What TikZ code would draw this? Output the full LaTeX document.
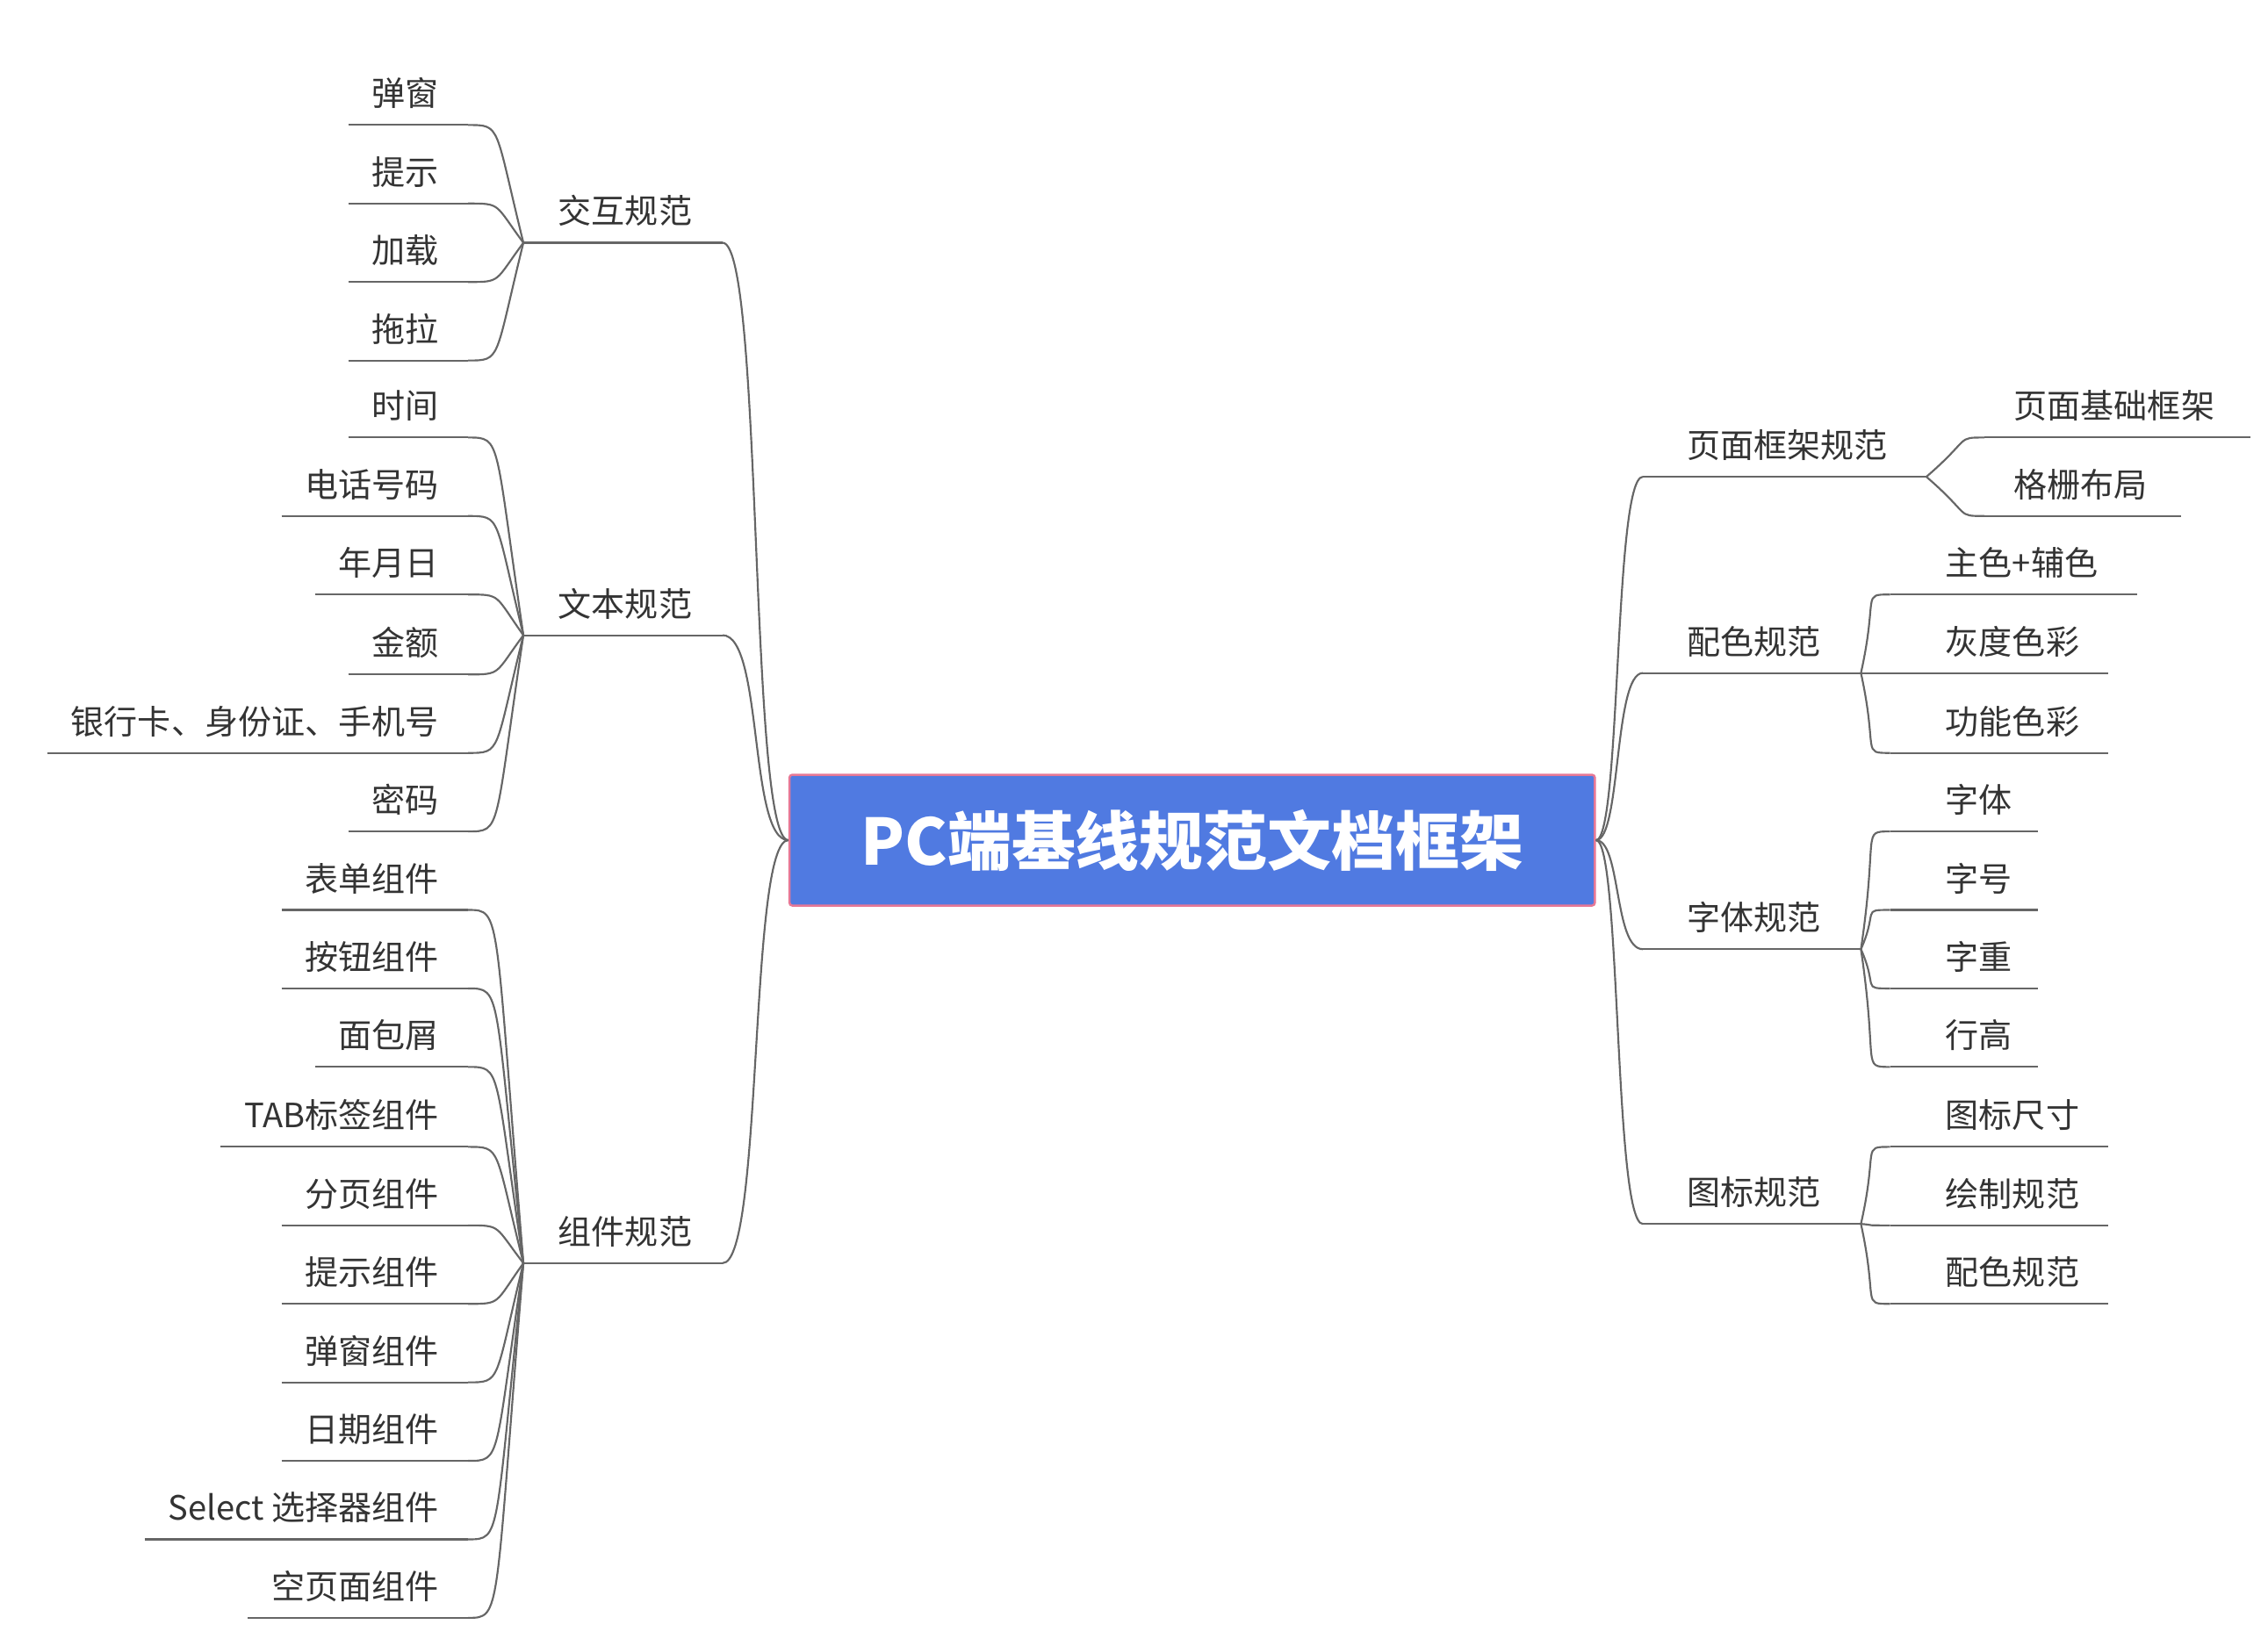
\documentclass[tikz,border=0pt]{standalone}
\usepackage{fontspec}
\setmainfont{Noto Sans CJK SC}
\definecolor{boxblue}{RGB}{80,122,225}
\definecolor{boxedge}{RGB}{230,120,150}
\begin{document}
\begin{tikzpicture}[x=1pt,y=-1pt,
  ln/.style={draw=black!60,line width=1.3pt},
  lbl/.style={text=black!80,inner sep=0pt,font=\fontsize{23}{26}\selectfont},
  conn/.style={ln}]
\useasboundingbox (0,0) rectangle (1560,1127);
\node[draw=boxedge,line width=1.5pt,fill=boxblue,
  minimum width=554pt,minimum height=90pt,inner sep=0pt,rounded corners=2pt,
  text=white,font=\fontsize{44}{50}\selectfont\bfseries] (c) at (820,578) {PC端基线规范文档框架};
% left main branches
\foreach \id/\y/\t in {a/167/交互规范, b/437/文本规范, d/869/组件规范}{
  \coordinate (\id R) at (497,\y);
  \coordinate (\id L) at (360,\y);
  \node[lbl,anchor=base] (\id T) at (430,\y-13) {\t};
  \draw[ln] (\id L) -- (\id R);
  \draw[conn] (c.west) .. controls (515,578) and (525,\y) .. (\id R);
}
% left leaves
\foreach \p/\n/\y/\t in {
 a/1/86/弹窗, a/2/140/提示, a/3/194/加载, a/4/248/拖拉,
 b/1/301/时间, b/2/355/电话号码, b/3/409/年月日, b/4/464/金额, b/5/518/银行卡、身份证、手机号, b/6/572/密码,
 d/1/626/表单组件, d/2/680/按钮组件, d/3/734/面包屑, d/4/789/TAB标签组件, d/5/843/分页组件,
 d/6/897/提示组件, d/7/951/弹窗组件, d/8/1005/日期组件, d/9/1059/Select 选择器组件, d/10/1113/空页面组件}{
  \coordinate (\p\n E) at (322,\y);
  \node[lbl,anchor=base east] (\p\n T) at (302,\y-13) {\t};
  \draw[ln] ([xshift=-16pt]\p\n T.west |- \p\n E) -- (\p\n E);
  \draw[conn] (\p L) .. controls (340,\y/2+\y/2) and (345,\y) .. (\p\n E);
}
% right main branches
\foreach \id/\y/\x/\t in {e/328/1325/页面框架规范, f/463/1280/配色规范, g/653/1280/字体规范, h/842/1280/图标规范}{
  \coordinate (\id L) at (1130,\y);
  \coordinate (\id R) at (\x,\y);
  \node[lbl,anchor=base west] (\id T) at (1160,\y-13) {\t};
  \draw[ln] (\id L) -- (\id R);
  \draw[conn] (c.east) .. controls (1115,578) and (1110,\y) .. (\id L);
}
% right leaves
\foreach \p/\n/\y/\x/\e/\o/\t in {
 e/1/301/1365/1548/20/页面基础框架, e/2/355/1365/1500/20/格栅布局,
 f/1/409/1300/1470/38/主色+辅色, f/2/463/1300/1450/38/灰度色彩, f/3/518/1300/1450/38/功能色彩,
 g/1/572/1300/1402/38/字体, g/2/626/1300/1402/38/字号, g/3/680/1300/1402/38/字重, g/4/734/1300/1402/38/行高,
 h/1/789/1300/1450/38/图标尺寸, h/2/843/1300/1450/38/绘制规范, h/3/897/1300/1450/38/配色规范}{
  \coordinate (\p\n S) at (\x,\y);
  \coordinate (\p\n E) at (\e,\y);
  \node[lbl,anchor=base west] (\p\n T) at (\x+\o,\y-13) {\t};
  \draw[ln] (\p\n S) -- (\p\n E);
  \draw[conn] (\p R) .. controls (\x-\x/100*1+5,\y) and (\x-20,\y) .. (\p\n S);
}
\end{tikzpicture}
\end{document}
